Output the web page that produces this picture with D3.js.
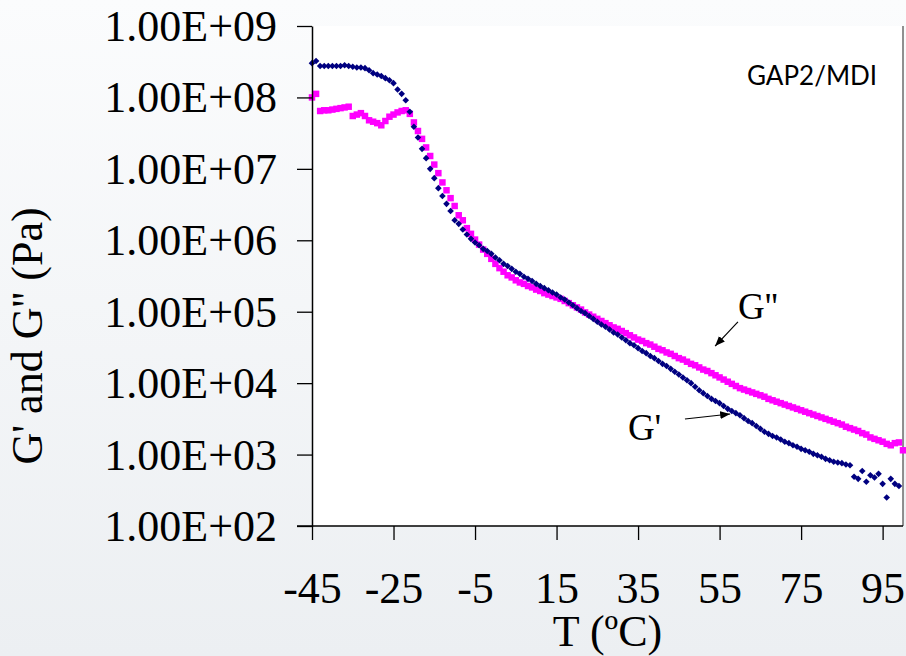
<!DOCTYPE html>
<meta charset="utf-8">
<style>
  body { margin: 0; background: #f4f6f8; }
  svg { display: block; }
  .axis text { font-family: "Liberation Serif", "Times New Roman", serif; font-size: 44px; fill: #000; }
  .axis line { stroke: #000; stroke-width: 1.3px; }
  .title { font-family: "Liberation Serif", "Times New Roman", serif; font-size: 44px; fill: #000; }
  .note { font-family: "Liberation Serif", "Times New Roman", serif; font-size: 37px; fill: #000; }
  .tag { font-family: Lato, "Open Sans", sans-serif; font-size: 26px; fill: #000; }
</style>
<svg width="906" height="656"></svg>
<script src="https://d3js.org/d3.v7.min.js"></script>
<script>
  // temperatures (ºC), one reading per degree
  var temps = [-45,-44,-43,-42,-41,-40,-39,-38,-37,-36,-35,-34,-33,-32,-31,-30,-29,-28,-27,-26,
    -25,-24,-23,-22,-21,-20,-19,-18,-17,-16,-15,-14,-13,-12,-11,-10,-9,-8,-7,-6,
    -5,-4,-3,-2,-1,0,1,2,3,4,5,6,7,8,9,10,11,12,13,14,15,16,17,18,19,20,21,22,23,24,
    25,26,27,28,29,30,31,32,33,34,35,36,37,38,39,40,41,42,43,44,45,46,47,48,49,50,
    51,52,53,54,55,56,57,58,59,60,61,62,63,64,65,66,67,68,69,70,71,72,73,74,75,
    76,77,78,79,80,81,82,83,84,85,86,87,88,89,90,91,92,93,94,95,96,97,98,99,100];

  // log10 of G' (Pa)
  var gPrimeLog = [8.48,8.51,8.44,8.44,8.44,8.44,8.44,8.44,8.45,8.44,
    8.43,8.42,8.42,8.41,8.38,8.34,8.32,8.30,8.27,8.24,
    8.20,8.11,8.05,7.96,7.80,7.59,7.44,7.28,7.15,7.00,
    6.87,6.73,6.62,6.51,6.41,6.28,6.23,6.15,6.08,6.02,
    5.97,5.93,5.88,5.85,5.81,5.76,5.72,5.67,5.64,5.60,
    5.56,5.53,5.49,5.46,5.43,5.39,5.36,5.33,5.30,5.27,
    5.24,5.20,5.17,5.13,5.09,5.05,5.01,4.98,4.94,4.90,
    4.86,4.82,4.79,4.75,4.71,4.68,4.64,4.60,4.56,4.53,
    4.49,4.45,4.42,4.38,4.35,4.31,4.27,4.24,4.20,4.16,
    4.12,4.08,4.04,4.00,3.95,3.90,3.86,3.82,3.78,3.75,
    3.72,3.68,3.64,3.61,3.58,3.55,3.51,3.47,3.44,3.40,
    3.36,3.32,3.29,3.26,3.24,3.21,3.18,3.16,3.13,3.11,
    3.08,3.06,3.04,3.01,2.99,2.97,2.94,2.92,2.90,2.89,
    2.88,2.86,2.85,2.69,2.66,2.77,2.62,2.71,2.68,2.73,
    2.59,2.40,2.66,2.59,2.56];

  // log10 of G'' (Pa)
  var gDoublePrimeLog = [8.00,8.05,7.81,7.82,7.82,7.83,7.84,7.85,7.86,7.87,
    7.74,7.76,7.78,7.74,7.68,7.66,7.64,7.61,7.67,7.73,
    7.76,7.79,7.81,7.82,7.77,7.65,7.53,7.42,7.30,7.18,
    7.06,6.94,6.81,6.70,6.59,6.48,6.35,6.28,6.17,6.09,
    6.01,5.94,5.87,5.81,5.74,5.67,5.61,5.56,5.51,5.48,
    5.44,5.41,5.39,5.36,5.34,5.31,5.29,5.26,5.24,5.22,
    5.20,5.18,5.15,5.12,5.09,5.06,5.03,4.99,4.96,4.93,
    4.90,4.87,4.84,4.81,4.78,4.76,4.73,4.70,4.67,4.64,
    4.61,4.59,4.56,4.54,4.51,4.48,4.46,4.43,4.41,4.38,
    4.35,4.33,4.30,4.27,4.25,4.22,4.19,4.17,4.14,4.11,
    4.08,4.05,4.02,3.99,3.96,3.93,3.91,3.89,3.87,3.85,
    3.83,3.81,3.78,3.76,3.74,3.72,3.70,3.68,3.66,3.64,
    3.62,3.60,3.58,3.56,3.54,3.52,3.50,3.48,3.46,3.44,
    3.42,3.39,3.37,3.35,3.33,3.30,3.28,3.24,3.22,3.20,
    3.18,3.15,3.13,3.16,3.17,3.06];

  var xTicks = [-45, -25, -5, 15, 35, 55, 75, 95];
  var yTicks = [1e2, 1e3, 1e4, 1e5, 1e6, 1e7, 1e8, 1e9];
  var yTickLabels = ["1.00E+02", "1.00E+03", "1.00E+04", "1.00E+05",
    "1.00E+06", "1.00E+07", "1.00E+08", "1.00E+09"];

  // arrow notes, in data units [T, Pa]
  var notes = [
    { label: "G''", at: [59.5, 7.9e4], from: [59.5, 7.2e4], to: [53.9, 3.3e4] },
    { label: "G'", at: [32.5, 1.6e3], from: [46.5, 3.15e3], to: [57.6, 3.7e3] }
  ];

  var svg = d3.select("svg");
  var plotL = 312, plotR = 903, plotT = 26, plotB = 526;

  var x = d3.scaleLinear().domain([-45, 100]).range([plotL, plotR]);
  var y = d3.scaleLog().domain([1e2, 1e9]).range([plotB, plotT]);

  var defs = svg.append("defs");
  var bg = defs.append("linearGradient").attr("id", "bg")
    .attr("x1", 0).attr("y1", 0).attr("x2", 0).attr("y2", 1);
  bg.append("stop").attr("offset", "0%").attr("stop-color", "#fbfcfd");
  bg.append("stop").attr("offset", "100%").attr("stop-color", "#eceff2");
  defs.append("marker").attr("id", "head")
    .attr("viewBox", "0 0 10 10").attr("refX", 10).attr("refY", 5)
    .attr("markerWidth", 10).attr("markerHeight", 10)
    .attr("markerUnits", "userSpaceOnUse").attr("orient", "auto")
    .append("path").attr("d", "M0,1L10,5L0,9Z").attr("fill", "#000");

  svg.append("rect").attr("width", 906).attr("height", 656).attr("fill", "url(#bg)");
  svg.append("rect")
    .attr("x", plotL).attr("y", plotT)
    .attr("width", plotR - plotL).attr("height", plotB - plotT)
    .attr("fill", "#fff");

  // right border
  svg.append("line")
    .attr("x1", plotR).attr("x2", plotR).attr("y1", plotT).attr("y2", plotB)
    .attr("stroke", "#555").attr("stroke-width", 1.3);

  var gd = gDoublePrimeLog.map(function(v, i) { return { t: temps[i], v: Math.pow(10, v) }; });
  var gp = gPrimeLog.map(function(v, i) { return { t: temps[i], v: Math.pow(10, v) }; });

  svg.append("g").selectAll("path")
    .data(gd).join("path")
    .attr("transform", function(d) { return "translate(" + x(d.t) + "," + y(d.v) + ")"; })
    .attr("d", d3.symbol(d3.symbolSquare, 42))
    .attr("fill", "#ff00ff");

  svg.append("g").selectAll("path")
    .data(gp).join("path")
    .attr("transform", function(d) { return "translate(" + x(d.t) + "," + y(d.v) + ")"; })
    .attr("d", "M0,-3.3L3.3,0L0,3.3L-3.3,0Z")
    .attr("fill", "#000080");

  // axes
  var yAxis = svg.append("g").attr("class", "axis")
    .attr("transform", "translate(" + plotL + ",0)")
    .call(d3.axisLeft(y).tickValues(yTicks)
      .tickFormat(function(d, i) { return yTickLabels[i]; })
      .tickSize(15).tickSizeOuter(0).tickPadding(20));
  yAxis.select(".domain").attr("stroke", "#000").attr("stroke-width", 1.5);
  yAxis.selectAll("text").attr("dy", "0.33em");

  var xAxis = svg.append("g").attr("class", "axis")
    .attr("transform", "translate(0," + plotB + ")")
    .call(d3.axisBottom(x).tickValues(xTicks)
      .tickFormat(function(d) { return String(d); })
      .tickSize(14).tickSizeOuter(0));
  xAxis.select(".domain").remove();
  xAxis.selectAll(".tick line").attr("stroke", "#444");
  xAxis.selectAll("text").attr("y", 77).attr("dy", null);
  xAxis.append("line")
    .attr("x1", plotL - 15).attr("x2", plotR)
    .attr("stroke", "#444").attr("stroke-width", 1.5);

  // titles
  svg.append("text").attr("class", "title")
    .attr("text-anchor", "middle")
    .attr("transform", "translate(42,336) rotate(-90)")
    .text("G' and G'' (Pa)");
  svg.append("text").attr("class", "title")
    .attr("text-anchor", "middle")
    .attr("x", (plotL + plotR) / 2).attr("y", 646)
    .text("T (ºC)");
  svg.append("text").attr("class", "tag")
    .attr("x", 747).attr("y", 85)
    .text("GAP2/MDI");

  // arrow notes
  notes.forEach(function(n) {
    svg.append("text").attr("class", "note")
      .attr("x", x(n.at[0])).attr("y", y(n.at[1]))
      .text(n.label);
    svg.append("line")
      .attr("x1", x(n.from[0])).attr("y1", y(n.from[1]))
      .attr("x2", x(n.to[0])).attr("y2", y(n.to[1]))
      .attr("stroke", "#000").attr("stroke-width", 1.2)
      .attr("marker-end", "url(#head)");
  });
</script>
